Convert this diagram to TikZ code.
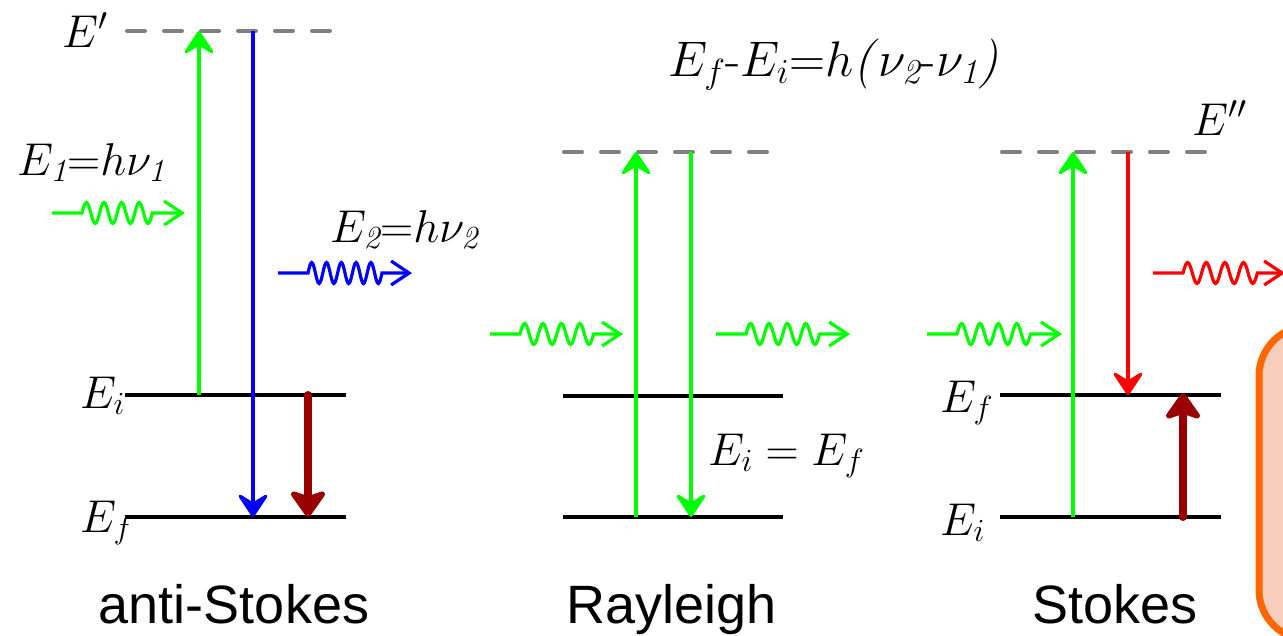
\RequirePackage{fix-cm}
\documentclass[tikz,border=0pt]{standalone}
\usepackage{fontspec}
\newfontfamily\arialf{Liberation Sans}
\usetikzlibrary{arrows.meta}
\definecolor{lgreen}{HTML}{00FF00}
\definecolor{lblue}{HTML}{0000FF}
\definecolor{lred}{HTML}{FF0000}
\definecolor{dred}{HTML}{990000}
\definecolor{vgray}{HTML}{808080}
\definecolor{orng}{HTML}{FF6600}
\definecolor{salm}{HTML}{F9CDBC}
\newcommand\photonpath[5]{\draw[photon,#1] (#2) -- ++(30,0) foreach \k in {1,...,#3}{ sin ++(#4,-10.5) cos ++(#4,10.5) sin ++(#4,10.5) cos ++(#4,-10.5) } -- (#5);}
\begin{document}
\begin{tikzpicture}[x=1pt,y=-1pt,
  lvl/.style={line width=3.5pt, black},
  virt/.style={line width=4pt, draw=vgray, dash pattern=on 18pt off 19pt, line cap=round},
  trans/.style={line width=3.2pt, -{Stealth[length=27pt,width=36pt,inset=11pt,round]}},
  heavy/.style={line width=8pt, dred, line cap=round, -{Stealth[length=30pt,width=42pt,inset=7pt,round]}},
  photon/.style={line width=3.2pt, -{Straight Barb[length=18pt,width=24pt,line width=3.2pt]}},
  lab/.style={inner sep=0pt, anchor=base west, font=\fontsize{46}{50}\selectfont},
  caption/.style={inner sep=0pt, anchor=base, font=\arialf\fontsize{54}{60}\selectfont}]
\clip (0,0) rectangle (1283,635);
\useasboundingbox (0,0) rectangle (1283,635);

% orange box (cut off at right)
\draw[line width=7pt, draw=orng, fill=salm, rounded corners=50pt] (1259,326) rectangle (1420,640);

% ---------- anti-Stokes ----------
\coordinate (asVl) at (127,31); \coordinate (asVr) at (330,31);
\coordinate (asIl) at (125,395); \coordinate (asIr) at (346,395);
\coordinate (asFl) at (125,517); \coordinate (asFr) at (346,517);
\draw[virt] (asVl) -- (asVr);
\draw[lvl] (asIl) -- (asIr);
\draw[lvl] (asFl) -- (asFr);
\coordinate (asUpB) at (199,395); \coordinate (asUpT) at (199,31);
\coordinate (asDnT) at (253,31); \coordinate (asDnB) at (253,517);
\coordinate (asHT) at (308,395); \coordinate (asHB) at (308,517);
\draw[trans, lgreen] (asUpB) -- (asUpT);
\draw[trans, lblue] (asDnT) -- (asDnB);
\draw[heavy] (asHT) -- (asHB);
\coordinate (w1s) at (52,213); \coordinate (w1e) at (185,213);
\photonpath{lgreen}{w1s}{4}{4.4}{w1e}
\coordinate (w2s) at (278,273); \coordinate (w2e) at (412,273);
\photonpath{lblue}{w2s}{5}{3.7}{w2e}
\node[lab] (lEp) at (62,47) {$E'$};
\node[lab] (lE1) at (17,175) {$E_{\mathit 1}$=$h\nu_{\mathit 1}$};
\node[lab] (lE2) at (330,242) {$E_{\mathit 2}$=$h\nu_{\mathit 2}$};
\node[lab] (asEi) at (80,408) {$E_i$};
\node[lab] (asEf) at (80,532) {$E_f$};
\node[caption] (tAS) at (234,623) {anti-Stokes};

% ---------- Rayleigh ----------
\coordinate (rVl) at (564,152); \coordinate (rVr) at (770,152);
\coordinate (rIl) at (563,396); \coordinate (rIr) at (783,396);
\coordinate (rFl) at (563,517); \coordinate (rFr) at (783,517);
\draw[virt] (rVl) -- (rVr);
\draw[lvl] (rIl) -- (rIr);
\draw[lvl] (rFl) -- (rFr);
\coordinate (rUpB) at (636,517); \coordinate (rUpT) at (636,152);
\coordinate (rDnT) at (691,152); \coordinate (rDnB) at (691,517);
\draw[trans, lgreen] (rUpB) -- (rUpT);
\draw[trans, lgreen] (rDnT) -- (rDnB);
\coordinate (w3s) at (490,334); \coordinate (w3e) at (623,334);
\photonpath{lgreen}{w3s}{4}{4.6}{w3e}
\coordinate (w4s) at (716,334); \coordinate (w4e) at (850,334);
\photonpath{lgreen}{w4s}{4}{4.6}{w4e}
\node[lab] (rEE) at (708,465) {$E_i = E_f$};
\node[caption] (tR) at (672,623) {Rayleigh};

% ---------- Stokes ----------
\coordinate (sVl) at (1002,152); \coordinate (sVr) at (1206,152);
\coordinate (sFl) at (1000,395); \coordinate (sFr) at (1221,395);
\coordinate (sIl) at (1000,517); \coordinate (sIr) at (1221,517);
\draw[virt] (sVl) -- (sVr);
\draw[lvl] (sFl) -- (sFr);
\draw[lvl] (sIl) -- (sIr);
\coordinate (sUpB) at (1073,517); \coordinate (sUpT) at (1073,152);
\coordinate (sDnT) at (1128,152); \coordinate (sDnB) at (1128,395);
\coordinate (sHB) at (1183,517); \coordinate (sHT) at (1183,393);
\draw[trans, lgreen] (sUpB) -- (sUpT);
\draw[trans, lred] (sDnT) -- (sDnB);
\draw[heavy] (sHB) -- (sHT);
\coordinate (w5s) at (927,334); \coordinate (w5e) at (1062,334);
\photonpath{lgreen}{w5s}{4}{4.6}{w5e}
\coordinate (w6s) at (1153,273); \coordinate (w6e) at (1285,273);
\photonpath{lred}{w6s}{4}{4.65}{w6e}
\node[lab] (lEpp) at (1192,135) {$E''$};
\node[lab] (sEf) at (940,412) {$E_f$};
\node[lab] (sEi) at (940,535) {$E_i$};
\node[caption] (tS) at (1115,623) {Stokes};

% ---------- title ----------
\node[lab, font=\fontsize{50}{54}\selectfont] (eq) at (668,76) {$E_f$-$E_i$=$h$\textit{(}$\nu_{\mathit 2}$-$\nu_{\mathit 1}$\textit{)}};
\end{tikzpicture}
\end{document}
